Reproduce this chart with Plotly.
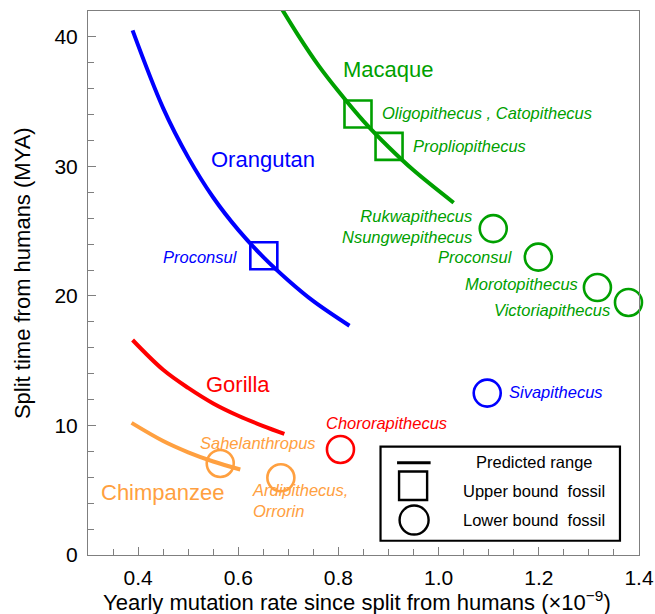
import plotly.graph_objects as go

# ---- data ----
orang_x = [0.389, 0.45, 0.50, 0.55, 0.60, 0.65, 0.70, 0.75, 0.822]
orang_y = [40.5, 34.5, 30.7, 27.6, 25.1, 23.0, 21.2, 19.6, 17.7]
macaque_x = [0.68, 0.72, 0.76, 0.80, 0.85, 0.90, 0.95, 1.03]
macaque_y = [42.6, 40.1, 37.8, 35.8, 33.5, 31.5, 29.7, 27.2]
gorilla_x = [0.389, 0.45, 0.50, 0.55, 0.60, 0.65, 0.692]
gorilla_y = [16.6, 14.3, 12.9, 11.7, 10.75, 9.95, 9.35]
chimp_x = [0.387, 0.45, 0.50, 0.55, 0.604]
chimp_y = [10.2, 8.8, 7.93, 7.22, 6.6]

# upper-bound fossils (squares)
ub_names = ["Proconsul", "Oligopithecus , Catopithecus", "Propliopithecus"]
ub_x = [0.651, 0.839, 0.901]
ub_y = [23.1, 34.05, 31.55]
ub_group = ["orang", "macaque", "macaque"]

# lower-bound fossils (circles)
lb_names = ["Rukwapithecus<br>Nsungwepithecus", "Proconsul", "Morotopithecus",
            "Victoriapithecus", "Sivapithecus", "Chororapithecus",
            "Sahelanthropus", "Ardipithecus,<br>Orrorin"]
lb_x = [1.109, 1.199, 1.317, 1.379, 1.097, 0.804, 0.564, 0.685]
lb_y = [25.2, 23.0, 20.65, 19.5, 12.5, 8.15, 7.07, 5.96]
lb_group = ["macaque", "macaque", "macaque", "macaque", "orang", "gorilla", "chimp", "chimp"]

x_ticks = [0.4, 0.6, 0.8, 1.0, 1.2, 1.4]
y_ticks = [0, 10, 20, 30, 40]

colors = {"orang": "#0000FF", "macaque": "#00A000", "gorilla": "#FF0000", "chimp": "#FFA040"}

FONT = "Liberation Sans, Arial, Helvetica, sans-serif"

fig = go.Figure()

for xs, ys, g in [(orang_x, orang_y, "orang"), (macaque_x, macaque_y, "macaque"),
                  (gorilla_x, gorilla_y, "gorilla"), (chimp_x, chimp_y, "chimp")]:
    fig.add_trace(go.Scatter(x=xs, y=ys, mode="lines", line=dict(color=colors[g], width=4, shape="spline"),
                             hoverinfo="skip", showlegend=False))

fig.add_trace(go.Scatter(x=ub_x, y=ub_y, mode="markers",
                         marker=dict(symbol="square-open", size=27, color=[colors[g] for g in ub_group],
                                     line=dict(width=2.6, color=[colors[g] for g in ub_group])),
                         showlegend=False, cliponaxis=False))
fig.add_trace(go.Scatter(x=lb_x, y=lb_y, mode="markers",
                         marker=dict(symbol="circle-open", size=27, color=[colors[g] for g in lb_group],
                                     line=dict(width=2.6, color=[colors[g] for g in lb_group])),
                         showlegend=False, cliponaxis=False))

def ann(text, x, y, color, size=16.5, italic=True, xanchor="center", yanchor="middle", align="center"):
    t = f"<i>{text}</i>" if italic else text
    fig.add_annotation(x=x, y=y, text=t, showarrow=False, xanchor=xanchor, yanchor=yanchor, align=align,
                       font=dict(family=FONT, size=size, color=color))

# species labels
ann("Orangutan", 0.649, 30.5, colors["orang"], size=22, italic=False)
ann("Macaque", 0.90, 37.5, colors["macaque"], size=22, italic=False)
ann("Gorilla", 0.60, 13.15, colors["gorilla"], size=22, italic=False)
ann("Chimpanzee", 0.45, 4.8, colors["chimp"], size=22, italic=False)

# fossil labels
ann(ub_names[0], 0.604, 23.0, colors["orang"], xanchor="right")
ann(ub_names[1], 0.883, 34.1, colors["macaque"], xanchor="left")
ann(ub_names[2], 0.944, 31.6, colors["macaque"], xanchor="left")
ann(lb_names[0], 1.071, 25.4, colors["macaque"], xanchor="right", align="right")
ann(lb_names[1], 1.153, 23.0, colors["macaque"], xanchor="right")
ann(lb_names[2], 1.283, 20.9, colors["macaque"], xanchor="right")
ann(lb_names[3], 1.346, 18.9, colors["macaque"], xanchor="right")
ann(lb_names[4], 1.136, 12.6, colors["orang"], xanchor="left")
ann(lb_names[5], 0.895, 10.2, colors["gorilla"])
ann(lb_names[6], 0.640, 8.65, colors["chimp"])
ann(lb_names[7], 0.624, 4.2, colors["chimp"], xanchor="left", align="left")

# legend box (decoration)
fig.add_shape(type="rect", x0=0.884, x1=1.362, y0=1.10, y1=8.36, line=dict(color="black", width=2.2),
              fillcolor="white", layer="above")
fig.add_shape(type="line", x0=0.917, x1=0.984, y0=7.12, y1=7.12, line=dict(color="black", width=3))
fig.add_shape(type="rect", x0=0.921, x1=0.977, y0=4.25, y1=6.45, line=dict(color="black", width=2.4))
fig.add_shape(type="circle", x0=0.922, x1=0.980, y0=1.58, y1=3.82, line=dict(color="black", width=2.4))
ann("Predicted range", 1.192, 7.2, "black", size=16.5, italic=False)
ann("Upper bound  fossil", 1.190, 4.95, "black", size=16.5, italic=False)
ann("Lower bound  fossil", 1.190, 2.72, "black", size=16.5, italic=False)

# axis titles as paper annotations
fig.add_annotation(xref="paper", yref="paper", x=0.488, y=-0.084, xanchor="center", yanchor="middle",
                   text="Yearly mutation rate since split from humans (×10<sup>−9</sup>)", showarrow=False,
                   font=dict(family=FONT, size=22, color="black"))
fig.add_annotation(xref="paper", yref="paper", x=-0.12, y=0.518, xanchor="center", yanchor="middle",
                   textangle=-90, text="Split time from humans (MYA)", showarrow=False,
                   font=dict(family=FONT, size=22, color="black"))

axis_common = dict(showline=True, linecolor="#7f7f7f", linewidth=1, mirror=True, ticks="inside",
                   tickcolor="#7f7f7f", ticklen=8, tickwidth=1, showgrid=False, zeroline=False,
                   automargin=False, tickfont=dict(family=FONT, size=21, color="black"))

fig.update_xaxes(range=[0.3, 1.4], tickvals=x_ticks, ticktext=[f"{v:.1f}" for v in x_ticks],
                 minor=dict(ticks="inside", dtick=0.05, tick0=0.3, ticklen=6, tickcolor="#7f7f7f"),
                 ticklabelstandoff=4, **axis_common)
fig.update_yaxes(range=[0, 42], tickvals=y_ticks, ticktext=[str(v) for v in y_ticks],
                 minor=dict(ticks="inside", dtick=2, tick0=0, ticklen=6, tickcolor="#7f7f7f"),
                 ticklabelstandoff=5, **axis_common)

fig.update_layout(width=655, height=614, margin=dict(l=88, r=16, t=11, b=59),
                  plot_bgcolor="white", paper_bgcolor="white", showlegend=False)

# remove the default page margin so the figure fills the window exactly; hide the mode bar
fig.write_html("out.html", config={"displayModeBar": False},
               post_script="document.body.style.margin='0px';document.body.style.overflow='hidden';")
